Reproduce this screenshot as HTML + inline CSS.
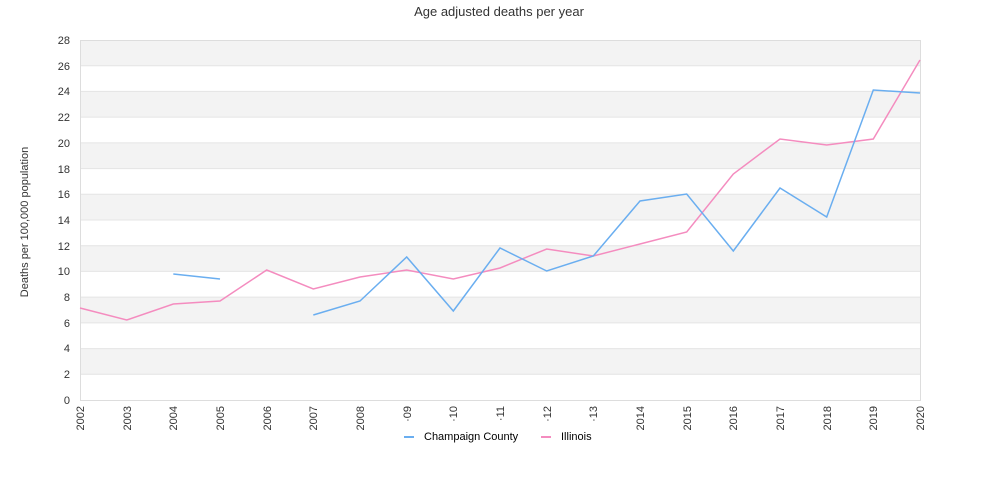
<!DOCTYPE html><html><head><style>body{margin:0;background:#fff}svg{display:block;font-family:"Liberation Sans",sans-serif}</style></head><body>
<svg width="1000" height="500" xmlns="http://www.w3.org/2000/svg">
<text x="499" y="16" text-anchor="middle" font-size="13" fill="#333">Age adjusted deaths per year</text>
<g fill="#f3f3f3">
<rect x="80" y="40" width="840" height="25.71"/><rect x="80" y="91.43" width="840" height="25.71"/><rect x="80" y="142.86" width="840" height="25.71"/><rect x="80" y="194.29" width="840" height="25.71"/><rect x="80" y="245.71" width="840" height="25.71"/><rect x="80" y="297.14" width="840" height="25.71"/><rect x="80" y="348.57" width="840" height="25.71"/>
</g>
<g stroke="#e4e4e4" stroke-width="1">
<line x1="80" x2="920" y1="65.7" y2="65.7"/><line x1="80" x2="920" y1="91.4" y2="91.4"/><line x1="80" x2="920" y1="117.1" y2="117.1"/><line x1="80" x2="920" y1="142.9" y2="142.9"/><line x1="80" x2="920" y1="168.6" y2="168.6"/><line x1="80" x2="920" y1="194.3" y2="194.3"/><line x1="80" x2="920" y1="220" y2="220"/><line x1="80" x2="920" y1="245.7" y2="245.7"/><line x1="80" x2="920" y1="271.4" y2="271.4"/><line x1="80" x2="920" y1="297.1" y2="297.1"/><line x1="80" x2="920" y1="322.9" y2="322.9"/><line x1="80" x2="920" y1="348.6" y2="348.6"/><line x1="80" x2="920" y1="374.3" y2="374.3"/>
</g>
<g stroke="#ddd" stroke-width="1" fill="none">
<rect x="80.5" y="40.5" width="840" height="360"/>
</g>
<g font-size="11" fill="#333" text-anchor="end">
<text x="70" y="404">0</text><text x="70" y="378">2</text><text x="70" y="352">4</text><text x="70" y="327">6</text><text x="70" y="301">8</text><text x="70" y="275">10</text><text x="70" y="250">12</text><text x="70" y="224">14</text><text x="70" y="198">16</text><text x="70" y="173">18</text><text x="70" y="147">20</text><text x="70" y="121">22</text><text x="70" y="95">24</text><text x="70" y="70">26</text><text x="70" y="44">28</text>
</g>
<text transform="translate(28,222) rotate(-90)" text-anchor="middle" font-size="11" fill="#333">Deaths per 100,000 population</text>
<g font-size="11" fill="#333" text-anchor="end">
<text transform="translate(84,406) rotate(-90)">2002</text><text transform="translate(131,406) rotate(-90)">2003</text><text transform="translate(177,406) rotate(-90)">2004</text><text transform="translate(224,406) rotate(-90)">2005</text><text transform="translate(271,406) rotate(-90)">2006</text><text transform="translate(317,406) rotate(-90)">2007</text><text transform="translate(364,406) rotate(-90)">2008</text><text transform="translate(411,406) rotate(-90)">·09</text><text transform="translate(457,406) rotate(-90)">·10</text><text transform="translate(504,406) rotate(-90)">·11</text><text transform="translate(551,406) rotate(-90)">·12</text><text transform="translate(597,406) rotate(-90)">·13</text><text transform="translate(644,406) rotate(-90)">2014</text><text transform="translate(691,406) rotate(-90)">2015</text><text transform="translate(737,406) rotate(-90)">2016</text><text transform="translate(784,406) rotate(-90)">2017</text><text transform="translate(831,406) rotate(-90)">2018</text><text transform="translate(877,406) rotate(-90)">2019</text><text transform="translate(924,406) rotate(-90)">2020</text>
</g>
<g fill="none" stroke-width="1.5">
<polyline stroke="#f48cbf" points="80,308 126.7,320 173.3,304 220,301 266.7,270 313.3,289 360,277 406.7,270 453.3,279 500,268 546.7,249 593.3,256 640,244 686.7,232 733.3,174 780,139 826.7,145 873.3,139 920,60"/>
<polyline stroke="#6aaef0" points="173.3,274 220,279"/>
<polyline stroke="#6aaef0" points="313.3,315 360,301 406.7,257 453.3,311 500,248 546.7,271 593.3,256 640,201 686.7,194 733.3,251 780,188 826.7,217 873.3,90 920,93"/>
</g>
<line x1="404" y1="437" x2="414" y2="437" stroke="#6aaef0" stroke-width="2"/>
<text x="424" y="440" font-size="11" fill="#000">Champaign County</text>
<line x1="541" y1="437" x2="551" y2="437" stroke="#f48cbf" stroke-width="2"/>
<text x="561" y="440" font-size="11" fill="#000">Illinois</text>
</svg>
</body></html>
